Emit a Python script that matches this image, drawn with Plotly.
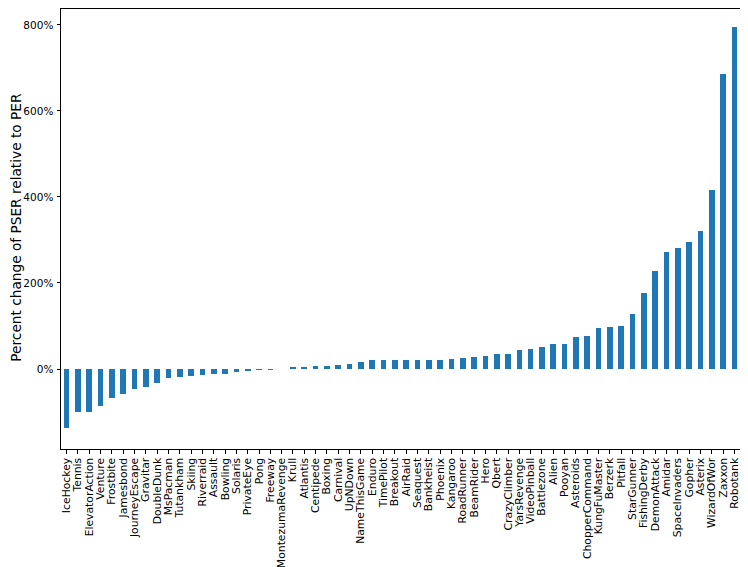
import plotly.graph_objects as go

games = ["IceHockey", "Tennis", "ElevatorAction", "Venture", "Frostbite", "Jamesbond",
         "JourneyEscape", "Gravitar", "DoubleDunk", "MsPacman", "Tutankham", "Skiing",
         "Riverraid", "Assault", "Bowling", "Solaris", "PrivateEye", "Pong", "Freeway",
         "MontezumaRevenge", "Krull", "Atlantis", "Centipede", "Boxing", "Carnival",
         "UpNDown", "NameThisGame", "Enduro", "TimePilot", "Breakout", "AirRaid",
         "Seaquest", "Bankheist", "Phoenix", "Kangaroo", "RoadRunner", "BeamRider",
         "Hero", "Qbert", "CrazyClimber", "YarsRevenge", "VideoPinball", "Battlezone",
         "Alien", "Pooyan", "Asteroids", "ChopperCommand", "KungFuMaster", "Berzerk",
         "Pitfall", "StarGunner", "FishingDerby", "DemonAttack", "Amidar",
         "SpaceInvaders", "Gopher", "Asterix", "WizardOfWor", "Zaxxon", "Robotank"]

pct_change = [-138, -99, -99, -86, -67, -59,
              -47, -41, -33, -22, -19, -17,
              -15, -12, -11, -6, -2.5, -1, -0.5,
              0, 3, 5, 6, 8, 9,
              12, 16, 20, 20, 21, 22,
              22, 22, 22, 24, 25, 27,
              31, 35, 36, 44, 47, 50,
              58, 58, 74, 77, 95, 98,
              100, 127, 177, 228, 271,
              281, 295, 320, 416, 686, 795]

y_ticks = [0, 200, 400, 600, 800]
y_ticktext = ["0%", "200%", "400%", "600%", "800%"]
y_title = "Percent change of PSER relative to PER"

fig = go.Figure(go.Bar(
    x=games, y=pct_change, width=0.5,
    marker=dict(color="#1f77b4", line=dict(width=0)),
))

# page body adds an ~8px offset, so the figure is sized/margined to compensate
fig.update_layout(
    width=740, height=559,
    margin=dict(l=53, r=8, t=1, b=118, autoexpand=False),
    paper_bgcolor="white", plot_bgcolor="white",
    font=dict(family="DejaVu Sans", size=10, color="black"),
    showlegend=False,
    bargap=0,
    annotations=[dict(
        text=y_title, textangle=-90, showarrow=False,
        xref="paper", yref="paper", x=-0.0665, y=0.505,
        xanchor="center", yanchor="middle",
        font=dict(size=13.7, color="black"),
    )],
)
fig.update_xaxes(
    type="category", range=[-0.5, 59.5], automargin=False,
    tickmode="array", tickvals=games, ticktext=games, tickangle=-90,
    showline=True, linecolor="black", linewidth=1, mirror=True,
    ticks="outside", ticklen=3.5, tickwidth=0.8, tickcolor="black",
    showgrid=False, zeroline=False, tickfont=dict(size=10.8),
)
fig.update_yaxes(
    range=[-186, 837], automargin=False,
    tickmode="array", tickvals=y_ticks, ticktext=y_ticktext,
    showline=True, linecolor="black", linewidth=1, mirror=True,
    ticks="outside", ticklen=3.5, tickwidth=0.8, tickcolor="black",
    ticklabelstandoff=1,
    showgrid=False, zeroline=False, tickfont=dict(size=10.5),
)

fig.write_html("out.html")
